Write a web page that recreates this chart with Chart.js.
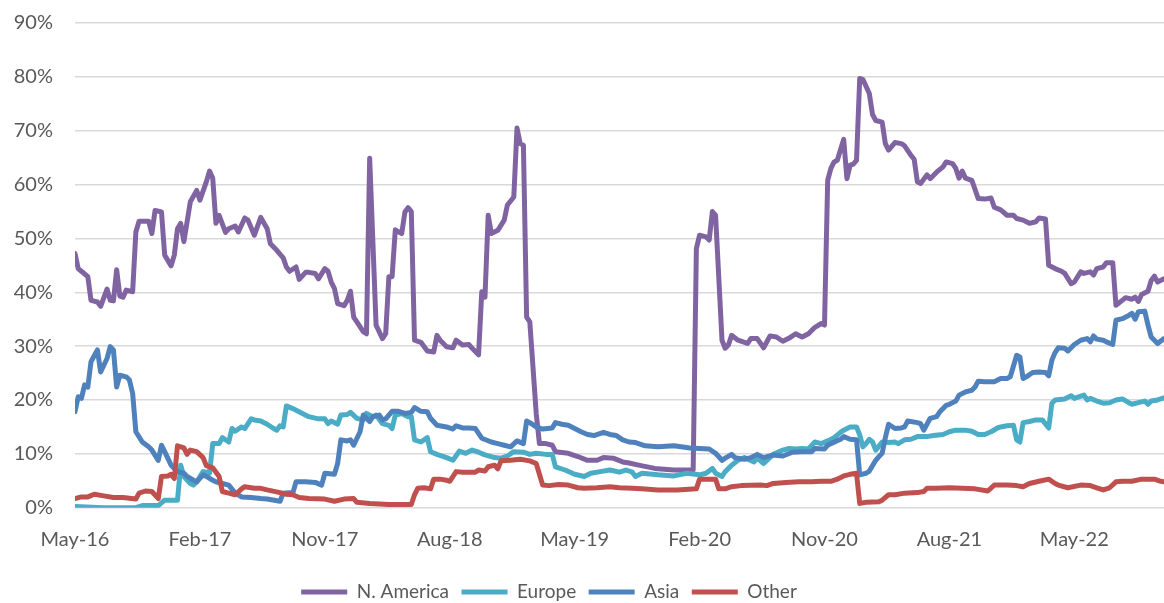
<!DOCTYPE html>
<html>
<head>
<meta charset="utf-8">
<script src="https://cdn.jsdelivr.net/npm/chart.js@4.4.1/dist/chart.umd.min.js"></script>
<style>
  html, body { margin: 0; padding: 0; background: #ffffff; }
  #wrap { width: 1164px; height: 603px; position: relative; }
</style>
</head>
<body>
<div id="wrap"><canvas id="c"></canvas></div>
<script>
// x = weeks since the start of May 2016; y = share in %
const tickWeeks  = [0, 39, 78, 117, 156, 195, 234, 273, 312];
const tickLabels = ['May-16', 'Feb-17', 'Nov-17', 'Aug-18', 'May-19', 'Feb-20', 'Nov-20', 'Aug-21', 'May-22'];
const seriesNames = ['N. America', 'Europe', 'Asia', 'Other'];

const naWeeks = [0,1,2,4,5,7,8,10,11,12,13,14,15,16,18,19,20,23,24,25,27,28,30,31,32,33,34,36,38,39,41,42,43,44,45,47,48,50,51,53,54,56,58,60,61,63,65,66,67,69,70,72,73,75,76,78,79,80,81,82,84,85,86,87,88,90,91,92,94,96,97,98,99,100,102,103,104,105,106,108,110,112,113,114,116,118,119,121,123,124,126,127,128,129,130,132,134,135,137,138,139,140,141,142,144,145,147,149,150,154,157,160,163,165,168,171,173,176,181,187,193,194,195,197,198,199,200,202,203,204,205,207,210,211,213,215,217,219,221,223,225,227,229,231,233,234,235,236,237,238,240,241,242,243,244,245,246,248,249,250,252,253,254,256,258,259,261,262,263,264,266,267,269,271,272,274,275,276,277,278,280,282,284,286,287,289,291,293,294,296,298,300,301,303,304,306,308,309,311,312,314,315,317,318,319,321,322,324,325,327,328,330,331,332,333,335,336,337,338,340];
const naValues = [47.2,44.4,43.9,42.9,38.5,38.2,37.4,40.6,38.5,38.4,44.2,39.3,39.1,40.4,40.1,51.2,53.2,53.2,50.9,55.2,54.9,46.9,44.9,46.9,51.8,52.8,49.4,56.8,58.9,57.1,60.5,62.5,61.2,52.8,54.3,51.1,51.8,52.3,51.2,53.8,53.4,50.6,53.9,51.8,49.0,47.8,46.4,44.7,43.9,44.7,42.4,43.7,43.7,43.5,42.5,44.4,43.9,41.9,40.7,37.9,37.5,38.5,40.2,35.4,34.5,32.7,32.3,64.9,33.9,31.4,32.3,42.9,42.9,51.6,50.9,54.9,55.7,55.0,31.1,30.7,29.1,28.9,32.0,31.1,29.9,29.7,31.1,30.2,30.3,29.6,28.4,40.1,39.1,54.3,50.9,51.5,53.4,56.2,57.7,70.5,67.6,67.3,35.4,34.5,17.5,11.9,11.9,11.6,10.4,10.1,9.5,8.8,8.8,9.3,9.2,8.5,8.3,7.9,7.3,7.0,7.0,48.1,50.6,50.3,49.7,55.0,54.3,31.1,29.6,30.2,32.0,31.1,30.5,31.4,31.4,29.7,31.9,31.7,30.9,31.5,32.3,31.7,32.3,33.5,34.2,33.9,60.8,63.0,64.2,64.5,68.4,61.1,63.6,63.8,64.5,79.7,79.5,76.9,73.0,71.9,71.6,67.6,66.4,67.8,67.6,67.2,65.4,64.7,60.5,60.2,61.8,61.1,62.3,63.3,64.2,63.9,63.0,61.2,62.5,61.2,60.8,57.4,57.3,57.5,55.8,55.3,54.3,54.3,53.7,53.4,52.8,53.1,53.8,53.6,45.0,44.4,43.9,43.5,41.6,41.9,43.8,43.5,43.8,43.2,44.4,44.7,45.5,45.5,37.6,38.5,39.0,38.7,39.1,38.3,39.6,40.2,42.2,43.0,41.9,42.5];

const euWeeks = [0,9,19,21,26,28,32,33,34,36,37,38,40,41,42,43,45,46,48,49,50,52,53,55,56,58,60,62,63,64,65,66,68,71,73,76,78,79,80,82,83,85,86,88,90,91,93,94,96,98,99,100,102,104,105,106,108,110,111,113,116,118,120,122,124,126,128,131,133,135,137,140,142,144,147,149,150,153,156,159,161,164,167,170,172,174,175,177,182,187,191,195,197,199,200,202,203,205,207,209,212,213,215,218,221,223,225,227,229,231,233,235,237,239,240,242,244,245,246,247,248,249,250,252,254,256,257,259,261,263,266,268,271,273,275,278,280,282,284,286,288,289,291,293,294,295,296,298,300,302,304,305,306,309,311,312,315,316,317,319,321,323,325,327,329,330,332,334,335,336,338,340];
const euValues = [0.2,0.0,0.0,0.4,0.4,1.4,1.4,7.9,5.8,4.5,4.2,4.8,6.7,6.6,6.4,11.9,11.9,13.0,12.2,14.7,14.2,15.0,14.7,16.5,16.3,16.1,15.5,14.7,14.4,15.2,15.0,18.9,18.4,17.5,16.9,16.5,16.5,15.6,16.1,15.5,17.2,17.3,17.7,16.6,16.3,17.5,16.9,17.2,15.6,15.3,14.7,17.2,17.5,16.9,16.9,12.6,12.2,13.0,10.4,9.9,9.3,8.8,10.5,10.1,10.7,10.3,9.8,9.3,9.2,9.6,10.4,10.3,9.9,10.1,9.9,9.9,7.6,7.0,6.2,5.8,6.4,6.7,7.0,6.6,7.0,6.6,5.8,6.4,6.1,5.9,6.4,6.1,6.4,7.3,6.4,5.8,6.7,7.9,8.8,9.3,8.5,9.2,8.2,9.9,10.7,11.0,10.9,11.0,10.9,12.2,11.9,12.4,13.0,14.0,14.4,15.0,15.0,13.5,11.3,11.9,12.7,12.2,10.7,12.2,12.1,12.2,11.9,12.6,12.7,13.2,13.2,13.4,13.6,14.1,14.4,14.4,14.2,13.6,13.6,14.1,14.8,15.0,15.2,15.3,12.6,12.2,15.8,16.0,16.3,16.3,14.8,19.4,20.0,20.2,20.8,20.3,20.9,20.0,20.3,19.8,19.4,19.5,20.0,20.2,19.5,19.2,19.5,19.8,19.2,19.8,20.0,20.4];

const asWeeks = [0,1,2,3,4,5,7,8,10,11,12,13,14,16,17,18,19,21,23,24,26,27,28,30,32,34,35,37,38,40,41,43,44,46,48,50,52,55,58,60,64,65,67,68,69,72,75,77,78,81,82,83,85,86,87,89,90,92,93,95,96,97,99,101,103,105,106,108,110,111,113,116,118,119,121,123,125,127,130,132,134,136,138,140,141,142,144,146,149,150,152,154,156,158,160,162,165,167,169,171,173,175,178,182,187,192,195,198,200,202,203,205,206,209,211,213,215,218,221,224,227,230,231,234,235,236,239,240,242,244,245,247,248,250,251,252,253,254,256,258,259,260,263,264,265,267,269,270,272,273,275,276,278,280,281,282,284,287,289,291,292,294,295,296,297,299,301,303,304,305,306,307,309,310,312,314,316,317,318,319,321,322,324,325,327,329,330,331,332,334,335,336,338,340];
const asValues = [17.8,20.6,20.3,22.8,22.4,27.1,29.3,25.2,27.7,29.9,29.3,22.4,24.6,24.3,23.7,21.2,14.1,12.2,11.3,10.7,8.8,11.6,10.4,7.9,6.7,6.4,5.8,5.1,4.8,6.1,5.8,5.1,4.8,4.5,4.2,2.7,2.0,1.9,1.7,1.6,1.2,2.7,2.8,2.7,4.8,4.8,4.7,4.2,6.4,6.2,8.2,12.6,12.4,12.6,11.6,14.1,17.2,16.0,16.9,17.2,16.3,16.5,17.9,17.9,17.5,17.7,18.6,17.9,17.8,16.6,15.3,15.0,14.6,15.2,14.8,14.8,14.7,12.9,12.2,11.9,11.6,11.3,12.4,11.9,16.1,15.8,15.0,14.6,14.8,15.8,15.5,15.3,14.7,14.1,13.6,13.4,14.0,13.6,13.4,12.6,12.2,12.1,11.5,11.3,11.5,11.1,11.0,10.9,10.1,8.8,9.2,9.9,9.3,9.0,9.3,9.9,9.3,9.8,9.6,10.3,10.4,10.4,11.0,10.9,11.6,11.9,12.7,13.2,12.7,12.6,6.1,6.4,6.8,8.8,9.5,10.1,13.0,15.5,14.7,14.8,15.0,16.1,15.8,15.6,14.4,16.6,16.9,17.8,19.0,19.2,19.8,20.9,21.5,21.8,22.4,23.5,23.4,23.4,24.0,24.0,24.3,28.3,28.0,24.0,24.3,25.1,25.2,25.1,24.5,27.4,28.8,29.7,29.6,29.1,30.3,31.1,31.4,30.8,31.9,31.3,31.1,30.8,30.3,34.8,35.1,35.7,36.1,35.0,36.4,36.5,33.9,31.7,30.5,31.4];

const otWeeks = [0,2,4,6,9,12,15,19,20,22,24,26,27,29,30,31,32,34,35,36,38,40,41,43,45,46,48,50,52,53,56,58,60,64,66,68,70,73,78,81,84,87,88,92,98,105,106,107,109,111,112,114,116,117,119,121,125,126,128,129,131,132,133,136,139,142,144,146,148,151,154,157,159,163,167,170,174,177,182,188,194,195,200,201,203,205,208,214,216,218,222,226,230,233,236,238,240,242,244,245,247,251,252,254,256,259,263,265,266,269,273,277,281,285,287,289,291,294,296,298,301,304,306,307,310,314,317,319,321,323,325,327,330,333,337,339,340];
const otValues = [1.7,2.0,2.0,2.5,2.2,1.9,1.9,1.6,2.7,3.1,3.0,1.7,5.8,5.9,6.2,5.4,11.5,11.1,9.9,10.7,10.4,9.3,7.8,7.4,5.8,3.0,2.7,2.4,3.5,3.9,3.6,3.6,3.3,2.8,2.5,2.4,1.9,1.7,1.6,1.2,1.6,1.7,1.0,0.8,0.6,0.6,2.4,3.6,3.7,3.5,5.3,5.3,5.1,4.9,6.7,6.6,6.6,7.0,6.8,7.6,7.9,7.2,8.7,8.8,9.0,8.7,8.2,4.2,4.1,4.3,4.2,3.7,3.6,3.7,3.9,3.7,3.6,3.5,3.3,3.3,3.5,5.3,5.3,3.5,3.5,3.9,4.1,4.2,4.1,4.5,4.7,4.8,4.8,4.9,4.9,5.3,5.9,6.2,6.4,0.8,1.0,1.1,1.4,2.4,2.4,2.7,2.8,3.0,3.6,3.6,3.7,3.6,3.5,3.1,4.2,4.2,4.2,4.1,3.9,4.5,4.9,5.3,4.5,4.2,3.7,4.2,4.1,3.7,3.3,3.7,4.8,4.9,4.9,5.3,5.3,4.9,4.8];

const colors = ['#8064A2', '#4BACC6', '#4F81BD', '#C0504D'];
const weeksList = [naWeeks, euWeeks, asWeeks, otWeeks];
const valuesList = [naValues, euValues, asValues, otValues];

const FONT = 'Lato, "Open Sans", sans-serif';
const TXT = '#595959';

const datasets = seriesNames.map((name, k) => ({
  label: name,
  data: weeksList[k].map((w, i) => ({ x: w, y: valuesList[k][i] })),
  borderColor: colors[k],
  backgroundColor: colors[k],
  borderWidth: 5,
  pointRadius: 0,
  pointHoverRadius: 0,
  tension: 0,
  borderJoinStyle: 'round',
  borderCapStyle: 'round',
  order: seriesNames.length - k
}));

// nudge the centred legend a little to the left, as in the original
const legendShift = {
  id: 'legendShift',
  afterLayout(chart) {
    const lg = chart.legend;
    if (lg) { lg.left -= 33; lg.right -= 33; }
  }
};

new Chart(document.getElementById('c'), {
  type: 'line',
  data: { datasets },
  plugins: [legendShift],
  options: {
    responsive: true,
    maintainAspectRatio: false,
    animation: false,
    events: [],
    layout: { padding: { top: 23, right: 0, bottom: -8.5, left: 0 } },
    plugins: {
      tooltip: { enabled: false },
      legend: {
        position: 'bottom',
        labels: {
          usePointStyle: true,
          pointStyle: 'line',
          pointStyleWidth: 46,
          boxHeight: 19,
          padding: 12.5,
          color: TXT,
          font: { family: FONT, size: 19 },
          sort: (a, b) => a.datasetIndex - b.datasetIndex
        }
      }
    },
    scales: {
      x: {
        type: 'linear',
        min: 0,
        max: 340,
        afterBuildTicks: (s) => { s.ticks = tickWeeks.map(v => ({ value: v })); },
        afterFit: (s) => { s.height = 62.3; },
        grid: { display: false, drawTicks: false },
        border: { display: false },
        ticks: {
          autoSkip: false,
          maxRotation: 0,
          padding: 20,
          color: TXT,
          font: { family: FONT, size: 20 },
          callback: (v) => { const i = tickWeeks.indexOf(v); return i >= 0 ? tickLabels[i] : ''; }
        }
      },
      y: {
        min: 0,
        max: 90,
        afterFit: (s) => { s.width = 75; },
        grid: { color: '#d9d9d9', lineWidth: 1.5, drawTicks: true, tickLength: 22, tickColor: 'rgba(0,0,0,0)' },
        border: { display: false },
        ticks: {
          stepSize: 10,
          padding: 0,
          color: TXT,
          font: { family: FONT, size: 20 },
          callback: (v) => v + '%'
        }
      }
    }
  }
});
</script>
</body>
</html>
